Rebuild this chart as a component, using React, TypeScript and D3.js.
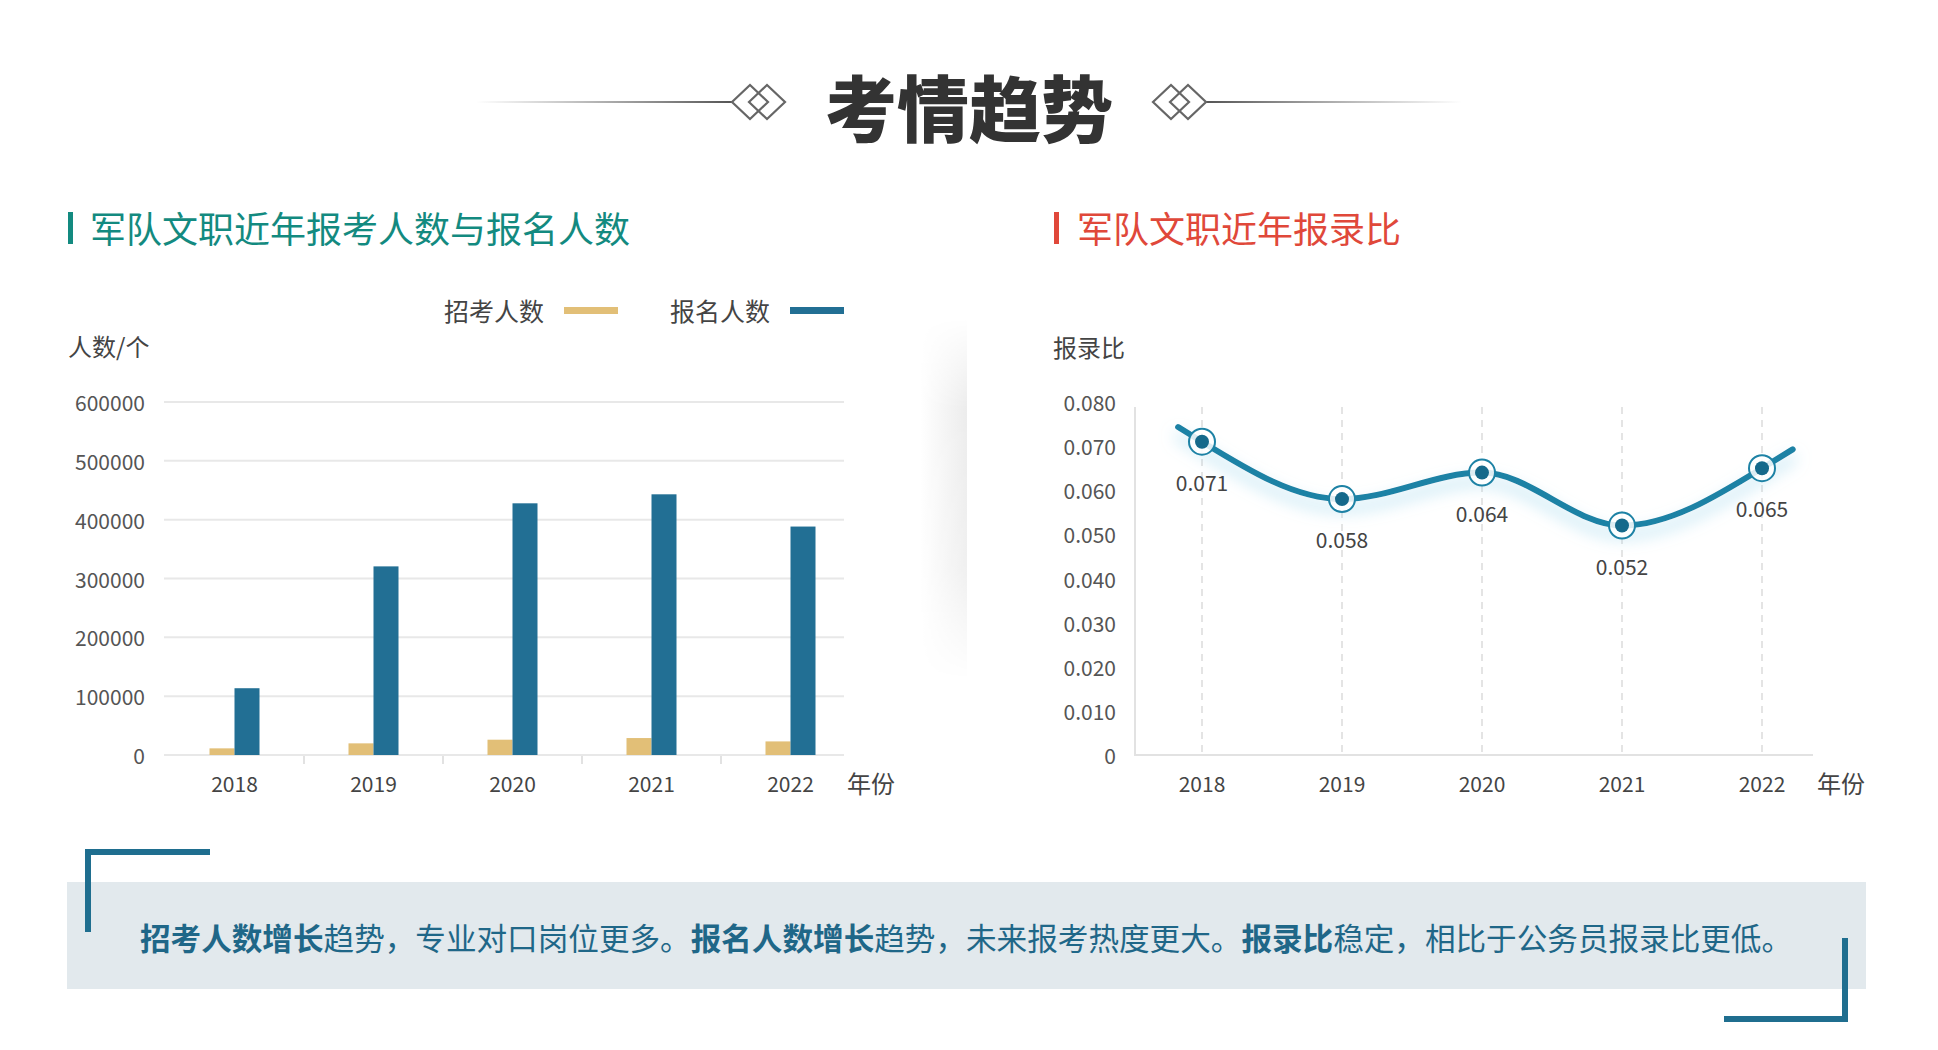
import * as d3 from "d3"
import { useRef, useEffect } from "react"

const years = ["2018", "2019", "2020", "2021", "2022"]
const recruitCounts = [11300, 19800, 26000, 28800, 23100]
const applicantCounts = [113500, 320600, 427800, 443100, 388300]
const ratios = [0.071, 0.058, 0.064, 0.052, 0.065]
const countTicks = [0, 100000, 200000, 300000, 400000, 500000, 600000]
const ratioTicks = [0, 0.01, 0.02, 0.03, 0.04, 0.05, 0.06, 0.07, 0.08]
const legendNames = ["招考人数", "报名人数"]
const summaryParts = [
  { text: "招考人数增长", bold: true },
  { text: "趋势，专业对口岗位更多。", bold: false },
  { text: "报名人数增长", bold: true },
  { text: "趋势，未来报考热度更大。", bold: false },
  { text: "报录比", bold: true },
  { text: "稳定，相比于公务员报录比更低。", bold: false },
]

const FONT = "'Noto Sans CJK SC', 'Noto Sans', sans-serif"
const YELLOW = "#e2bf77"
const BLUE = "#226f94"
const LINE = "#1d82a5"

export default function App() {
  const svgRef = useRef<SVGSVGElement>(null)

  useEffect(() => {
    if (!svgRef.current) return
    document.body.style.margin = "0"
    const svg = d3.select(svgRef.current)
    svg.selectAll("*").remove()
    svg.style("font-family", FONT)

    const defs = svg.append("defs")

    // title line gradients
    const lg = defs.append("linearGradient").attr("id", "lineL").attr("gradientUnits", "userSpaceOnUse")
      .attr("x1", 476).attr("x2", 732).attr("y1", 0).attr("y2", 0)
    lg.append("stop").attr("offset", 0).attr("stop-color", "#666").attr("stop-opacity", 0)
    lg.append("stop").attr("offset", 1).attr("stop-color", "#555").attr("stop-opacity", 1)
    const rg = defs.append("linearGradient").attr("id", "lineR").attr("gradientUnits", "userSpaceOnUse")
      .attr("x1", 1206).attr("x2", 1462).attr("y1", 0).attr("y2", 0)
    rg.append("stop").attr("offset", 0).attr("stop-color", "#555").attr("stop-opacity", 1)
    rg.append("stop").attr("offset", 1).attr("stop-color", "#666").attr("stop-opacity", 0)

    // separator shadow
    const sg = defs.append("linearGradient").attr("id", "sepGrad")
    sg.append("stop").attr("offset", 0).attr("stop-color", "#ffffff")
    sg.append("stop").attr("offset", 1).attr("stop-color", "#ececec")
    const vg = defs.append("linearGradient").attr("id", "sepFade").attr("x1", 0).attr("x2", 0).attr("y1", 0).attr("y2", 1)
    vg.append("stop").attr("offset", 0).attr("stop-color", "#fff").attr("stop-opacity", 0)
    vg.append("stop").attr("offset", 0.25).attr("stop-color", "#fff").attr("stop-opacity", 1)
    vg.append("stop").attr("offset", 0.7).attr("stop-color", "#fff").attr("stop-opacity", 0.8)
    vg.append("stop").attr("offset", 1).attr("stop-color", "#fff").attr("stop-opacity", 0)
    defs.append("mask").attr("id", "sepMask")
      .append("rect").attr("x", 915).attr("y", 318).attr("width", 60).attr("height", 362).attr("fill", "url(#sepFade)")

    // glow under the ratio line
    const f = defs.append("filter").attr("id", "glow").attr("x", "-20%").attr("y", "-60%").attr("width", "140%").attr("height", "220%")
    f.append("feGaussianBlur").attr("in", "SourceAlpha").attr("stdDeviation", 8).attr("result", "b")
    f.append("feOffset").attr("in", "b").attr("dy", 9).attr("result", "o")
    f.append("feFlood").attr("flood-color", "#9bd5ec").attr("flood-opacity", 0.8)
    f.append("feComposite").attr("in2", "o").attr("operator", "in").attr("result", "s")
    const fm = f.append("feMerge")
    fm.append("feMergeNode").attr("in", "s")
    fm.append("feMergeNode").attr("in", "SourceGraphic")

    // ---------- header ----------
    svg.append("line").attr("x1", 476).attr("x2", 732).attr("y1", 102).attr("y2", 102)
      .attr("stroke", "url(#lineL)").attr("stroke-width", 2)
    svg.append("line").attr("x1", 1206).attr("x2", 1462).attr("y1", 102).attr("y2", 102)
      .attr("stroke", "url(#lineR)").attr("stroke-width", 2)
    const diamond = (cx: number, cy: number) => `M${cx - 18},${cy}L${cx},${cy - 17}L${cx + 18},${cy}L${cx},${cy + 17}Z`
    ;[750, 767, 1171, 1188].forEach((cx) => {
      svg.append("path").attr("d", diamond(cx, 102)).attr("fill", "none").attr("stroke", "#666").attr("stroke-width", 2.2)
    })
    svg.append("text").attr("x", 969).attr("y", 104).attr("text-anchor", "middle").attr("dominant-baseline", "central")
      .attr("fill", "#333").style("font-size", "72px").style("font-weight", 900).text("考情趋势")

    // section titles
    svg.append("rect").attr("x", 68).attr("y", 212).attr("width", 5).attr("height", 32).attr("fill", "#138a80")
    svg.append("text").attr("x", 90).attr("y", 227).attr("dominant-baseline", "central").attr("fill", "#138a80")
      .style("font-size", "36px").text("军队文职近年报考人数与报名人数")
    svg.append("rect").attr("x", 1054).attr("y", 212).attr("width", 5).attr("height", 32).attr("fill", "#e0483a")
    svg.append("text").attr("x", 1077).attr("y", 227).attr("dominant-baseline", "central").attr("fill", "#e0483a")
      .style("font-size", "36px").text("军队文职近年报录比")

    // separator shadow
    svg.append("rect").attr("x", 920).attr("y", 320).attr("width", 47).attr("height", 357)
      .attr("fill", "url(#sepGrad)").attr("mask", "url(#sepMask)")

    // ---------- bar chart ----------
    const yCount = d3.scaleLinear().domain([0, 600000]).range([755, 402])
    const xBar = d3.scaleBand<string>().domain(years).range([165, 860])
    const barW = 25
    const bar = svg.append("g")

    bar.selectAll("line.grid").data(countTicks).join("line").attr("class", "grid")
      .attr("x1", 164).attr("x2", 844).attr("y1", (d) => yCount(d)).attr("y2", (d) => yCount(d))
      .attr("stroke", "#e8e8e8").attr("stroke-width", 2)
    bar.selectAll("text.ytick").data(countTicks).join("text").attr("class", "ytick")
      .attr("x", 145).attr("y", (d) => yCount(d)).attr("text-anchor", "end").attr("dominant-baseline", "central")
      .attr("fill", "#555").style("font-size", "21px").text((d) => String(d))
    bar.selectAll("line.sep").data(years.slice(1)).join("line").attr("class", "sep")
      .attr("x1", (d) => xBar(d)!).attr("x2", (d) => xBar(d)!).attr("y1", 756).attr("y2", 764)
      .attr("stroke", "#e2e2e2").attr("stroke-width", 2)

    const center = (d: string) => xBar(d)! + xBar.bandwidth() / 2
    bar.selectAll("rect.recruit").data(years).join("rect").attr("class", "recruit")
      .attr("x", (d) => center(d) - barW).attr("width", barW)
      .attr("y", (_, i) => yCount(recruitCounts[i])).attr("height", (_, i) => yCount(0) - yCount(recruitCounts[i]))
      .attr("fill", YELLOW)
    bar.selectAll("rect.applicant").data(years).join("rect").attr("class", "applicant")
      .attr("x", (d) => center(d)).attr("width", barW)
      .attr("y", (_, i) => yCount(applicantCounts[i])).attr("height", (_, i) => yCount(0) - yCount(applicantCounts[i]))
      .attr("fill", BLUE)
    bar.selectAll("text.xtick").data(years).join("text").attr("class", "xtick")
      .attr("x", (d) => center(d)).attr("y", 783).attr("text-anchor", "middle").attr("dominant-baseline", "central")
      .attr("fill", "#444").style("font-size", "21px").text((d) => d)

    bar.append("text").attr("x", 847).attr("y", 782).attr("dominant-baseline", "central").attr("fill", "#444")
      .style("font-size", "24px").text("年份")
    bar.append("text").attr("x", 68).attr("y", 345).attr("dominant-baseline", "central").attr("fill", "#444")
      .style("font-size", "24px").text("人数/个")

    // legend
    const legendX = [444, 670]
    const legendColors = [YELLOW, BLUE]
    legendNames.forEach((name, i) => {
      bar.append("text").attr("x", legendX[i]).attr("y", 310).attr("dominant-baseline", "central").attr("fill", "#444")
        .style("font-size", "25px").text(name)
      bar.append("rect").attr("x", legendX[i] + 120).attr("y", 307).attr("width", 54).attr("height", 7).attr("fill", legendColors[i])
    })

    // ---------- line chart ----------
    const yRatio = d3.scaleLinear().domain([0, 0.08]).range([755, 402])
    const xLine = d3.scalePoint<string>().domain(years).range([1202, 1762])
    const lc = svg.append("g")

    lc.selectAll("line.vgrid").data(years).join("line").attr("class", "vgrid")
      .attr("x1", (d) => xLine(d)!).attr("x2", (d) => xLine(d)!).attr("y1", 407).attr("y2", 755)
      .attr("stroke", "#dcdcdc").attr("stroke-width", 1.5).attr("stroke-dasharray", "7,6")
    lc.append("line").attr("x1", 1135).attr("x2", 1135).attr("y1", 407).attr("y2", 756).attr("stroke", "#e2e2e2").attr("stroke-width", 2)
    lc.append("line").attr("x1", 1134).attr("x2", 1813).attr("y1", 755).attr("y2", 755).attr("stroke", "#e2e2e2").attr("stroke-width", 2)

    lc.selectAll("text.ytick").data(ratioTicks).join("text").attr("class", "ytick")
      .attr("x", 1116).attr("y", (d) => yRatio(d)).attr("text-anchor", "end").attr("dominant-baseline", "central")
      .attr("fill", "#555").style("font-size", "21px").text((d) => (d === 0 ? "0" : d.toFixed(3)))
    lc.selectAll("text.xtick").data(years).join("text").attr("class", "xtick")
      .attr("x", (d) => xLine(d)!).attr("y", 783).attr("text-anchor", "middle").attr("dominant-baseline", "central")
      .attr("fill", "#444").style("font-size", "21px").text((d) => d)
    lc.append("text").attr("x", 1817).attr("y", 782).attr("dominant-baseline", "central").attr("fill", "#444")
      .style("font-size", "24px").text("年份")
    lc.append("text").attr("x", 1053).attr("y", 346).attr("dominant-baseline", "central").attr("fill", "#444")
      .style("font-size", "24px").text("报录比")

    const curve = d3.line<number>()
      .x((_, i) => xLine(years[i])!)
      .y((d) => yRatio(d))
      .curve(d3.curveMonotoneX)(ratios) || ""
    const path = lc.append("path").attr("d", curve).attr("fill", "none").attr("stroke", LINE)
      .attr("stroke-width", 6).attr("stroke-linecap", "round").attr("filter", "url(#glow)")
    // extend the curve a little beyond both ends along its tangent
    const node = path.node() as SVGPathElement
    const L = node.getTotalLength()
    const a0 = node.getPointAtLength(0), a1 = node.getPointAtLength(2)
    const b0 = node.getPointAtLength(L), b1 = node.getPointAtLength(L - 2)
    const ext = (p: DOMPoint, q: DOMPoint, len: number) => {
      const dx = p.x - q.x, dy = p.y - q.y, n = Math.hypot(dx, dy) || 1
      return [p.x + (dx / n) * len, p.y + (dy / n) * len]
    }
    const e0 = ext(a0, a1, 28), e1 = ext(b0, b1, 36)
    path.attr("d", `M${e0[0]},${e0[1]}L${curve.slice(1)}L${e1[0]},${e1[1]}`)

    const pts = lc.selectAll("g.pt").data(ratios).join("g").attr("class", "pt")
      .attr("transform", (d, i) => `translate(${xLine(years[i])},${yRatio(d)})`)
    pts.append("circle").attr("r", 13).attr("fill", "#ffffff").attr("fill-opacity", 0.85).attr("stroke", LINE).attr("stroke-width", 2)
    pts.append("circle").attr("r", 7).attr("fill", "#15698b")
    pts.append("text").attr("y", 40).attr("text-anchor", "middle").attr("dominant-baseline", "central")
      .attr("fill", "#444").style("font-size", "21px").text((d) => d.toFixed(3))

    // ---------- summary panel ----------
    svg.append("rect").attr("x", 67).attr("y", 882).attr("width", 1799).attr("height", 107).attr("fill", "#e2e9ed")
    const bc = "#1f6e8f"
    svg.append("rect").attr("x", 85).attr("y", 849).attr("width", 125).attr("height", 6).attr("fill", bc)
    svg.append("rect").attr("x", 85).attr("y", 849).attr("width", 6).attr("height", 83).attr("fill", bc)
    svg.append("rect").attr("x", 1842).attr("y", 938).attr("width", 6).attr("height", 84).attr("fill", bc)
    svg.append("rect").attr("x", 1724).attr("y", 1016).attr("width", 124).attr("height", 6).attr("fill", bc)

    const summary = svg.append("text").attr("x", 140).attr("y", 937).attr("dominant-baseline", "central")
      .attr("fill", "#1f6788").style("font-size", "30.6px")
    summary.selectAll("tspan").data(summaryParts).join("tspan")
      .style("font-weight", (d) => (d.bold ? 700 : 400)).text((d) => d.text)
  }, [])

  return (
    <svg ref={svgRef} width={1938} height={1050} style={{ display: "block", position: "absolute", left: 0, top: 0 }}></svg>
  )
}
